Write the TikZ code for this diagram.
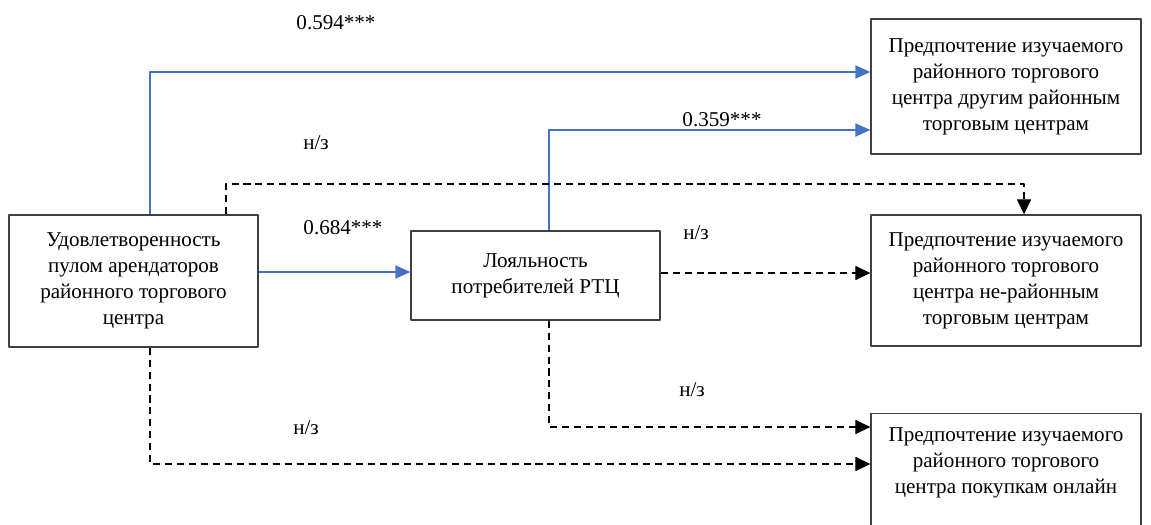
\documentclass[tikz,border=0pt]{standalone}
\usepackage{fontspec}
\setmainfont{Liberation Serif}
\usetikzlibrary{arrows.meta}
\definecolor{synij}{RGB}{68,114,196}
\definecolor{ramka}{RGB}{64,64,64}
\tikzset{
	blok/.style={draw=ramka,line width=0.8pt,align=center,inner sep=0pt,font=\fontsize{12}{14.8}\selectfont},
	tekst/.style={align=center,inner sep=0pt,font=\fontsize{12}{14.8}\selectfont},
	metka/.style={inner sep=0pt,font=\fontsize{12}{14}\selectfont},
	sv/.style={color=synij,line width=0.7pt,-{Triangle[length=8.5pt,width=7.5pt]}},
	ns/.style={color=black,line width=0.6pt,dash pattern=on 4pt off 2.8pt,-{Triangle[length=8.5pt,width=8pt]}}
}
\begin{document}
\begin{tikzpicture}[line join=round,x=0.02cm,y=-0.02cm]
		\useasboundingbox (0,0) rectangle (1151,524);
		%Блоки
		\node[blok,minimum width=4.98cm,minimum height=2.64cm] (ud) at (133.5,281) {Удовлетворенность\\пулом арендаторов\\районного торгового\\центра};
		\node[blok,minimum width=4.98cm,minimum height=1.78cm] (lo) at (535.5,275.5) {Лояльность\\потребителей РТЦ};
		\node[blok,minimum width=5.4cm,minimum height=2.7cm] (p1) at (1006,86.5) {Предпочтение изучаемого\\районного торгового\\центра другим районным\\торговым центрам};
		\node[blok,minimum width=5.4cm,minimum height=2.62cm] (p2) at (1006,280.5) {Предпочтение изучаемого\\районного торгового\\центра не-районным\\торговым центрам};
		\node[blok,minimum width=5.4cm,minimum height=2.28cm,anchor=north] (p3) at (1006,413) {};
		\node[tekst] (p3t) at (1006,463) {Предпочтение изучаемого\\районного торгового\\центра покупкам онлайн};
		%Точки изломов
		\coordinate (k1) at (150,72);
		\coordinate (k2) at (549,130);
		\coordinate (k3) at (226,184);
		\coordinate (k4) at (1024,184);
		\coordinate (k5) at (335,272);
		\coordinate (k6) at (760,273);
		\coordinate (k7) at (549,427);
		\coordinate (k8) at (150,464);
		%Значимые связи
		\draw[sv] (ud.north -| k1) |- (p1.west |- k1);
		\draw[sv] (lo.north -| k2) |- (p1.west |- k2);
		\draw[sv] (ud.east |- k5) -- (lo.west |- k5);
		%Незначимые связи
		\draw[ns] (ud.north -| k3) -- (k3) -- (k4) -- (p2.north -| k4);
		\draw[ns] (lo.east |- k6) -- (p2.west |- k6);
		\draw[ns] (lo.south -| k7) |- (p3.west |- k7);
		\draw[ns] (ud.south -| k8) |- (p3.west |- k8);
		%Коэффициенты
		\node[metka] (m1) at (336,23) {0.594***};
		\node[metka] (m2) at (722,120) {0.359***};
		\node[metka] (m3) at (343,228) {0.684***};
		\node[metka] (m4) at (316,143) {н/з};
		\node[metka] (m5) at (696,233) {н/з};
		\node[metka] (m6) at (692,390) {н/з};
		\node[metka] (m7) at (306,428) {н/з};
	\end{tikzpicture}
\end{document}
